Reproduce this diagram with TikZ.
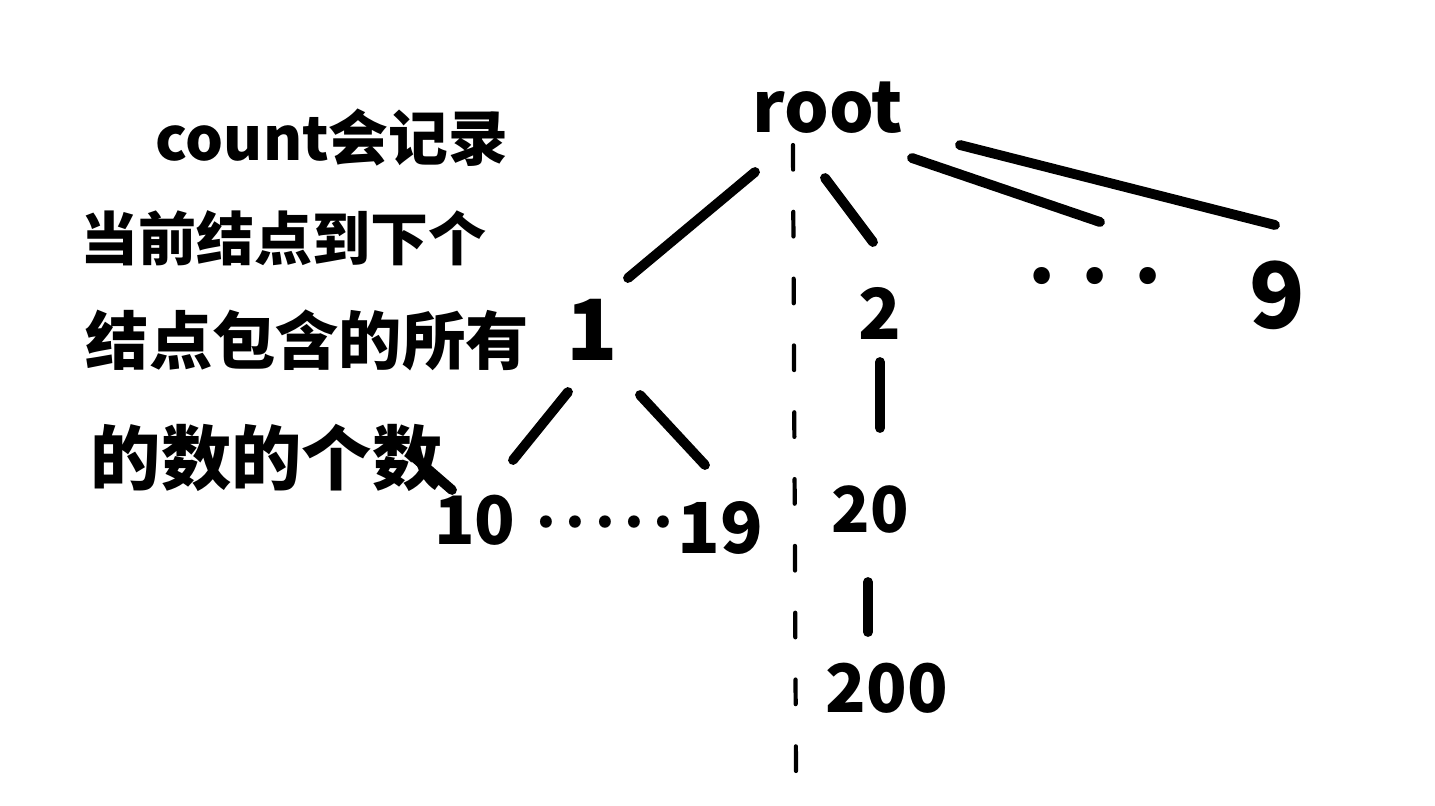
\documentclass[tikz,border=0pt]{standalone}
\usepackage{fontspec}
\setmainfont{Noto Sans}
\newfontfamily\cjk{Noto Sans CJK SC}
\tikzset{
  num/.style={inner sep=0pt, font=\cjk\bfseries\fontsize{#1}{#1}\selectfont},
  note/.style={inner sep=0pt, anchor=west, font=\cjk\bfseries\fontsize{#1}{#1}\selectfont},
  link/.style={line width=2.8pt, line cap=round},
  axis/.style={line width=1.2pt, line cap=round, dash pattern=on 7pt off 12pt},
}
\begin{document}
\begin{tikzpicture}[x=0.01cm, y=-0.01cm]
  \useasboundingbox (0,0) rectangle (1435,805);
  % note on the left
  \node[note=17]   (t1) at (155,138) {count会记录};
  \node[note=16.5] (t2) at (80,238)  {当前结点到下个};
  \node[note=18]   (t3) at (85,340)  {结点包含的所有};
  \node[note=20]   (t4) at (90,458)  {的数的个数};
  % tree
  \node[num=20] (root) at (828,108) {root};
  \node[num=24] (n1)   at (592,330) {1};
  \node[num=20] (n2)   at (880,313) {2};
  \node[num=22] (dots) at (1095,276) {.\,\,.\,\,.};
  \node[num=26] (n9)   at (1277,295) {9};
  \node[num=19] (n10)  at (475,520) {10};
  \node[num=16] (dots2) at (605,522) {.\,.\,.\,.\,.};
  \node[num=20] (n19)  at (720,528) {19};
  \node[num=18] (n20)  at (870,510) {20};
  \node[num=19] (n200) at (887,688) {200};
  \foreach \a/\sx/\sy/\b/\ex/\ey in {root.center/-73/64/n1/36/-52,
      root.center/-3/70/n2/-7/-71, root.center/84/50/dots/5/-54,
      root.center/132/37/n9/-2/-70, n1.center/-24/62/n10/38/-60,
      n1.center/48/65/n19/-15/-63, n2.center/0/49/n20/10/-82,
      n20.center/-2/72/n200/-19/-56, t4.east/-28/0/n10/-23/-30}
    \draw[link] ([shift={(\sx,\sy)}]\a) -- ([shift={(\ex,\ey)}]\b.center);
  % dashed divider
  \coordinate (axtop) at (793,145);
  \coordinate (axbot) at (796,775);
  \draw[axis] (axtop) -- (axbot);
\end{tikzpicture}
\end{document}
